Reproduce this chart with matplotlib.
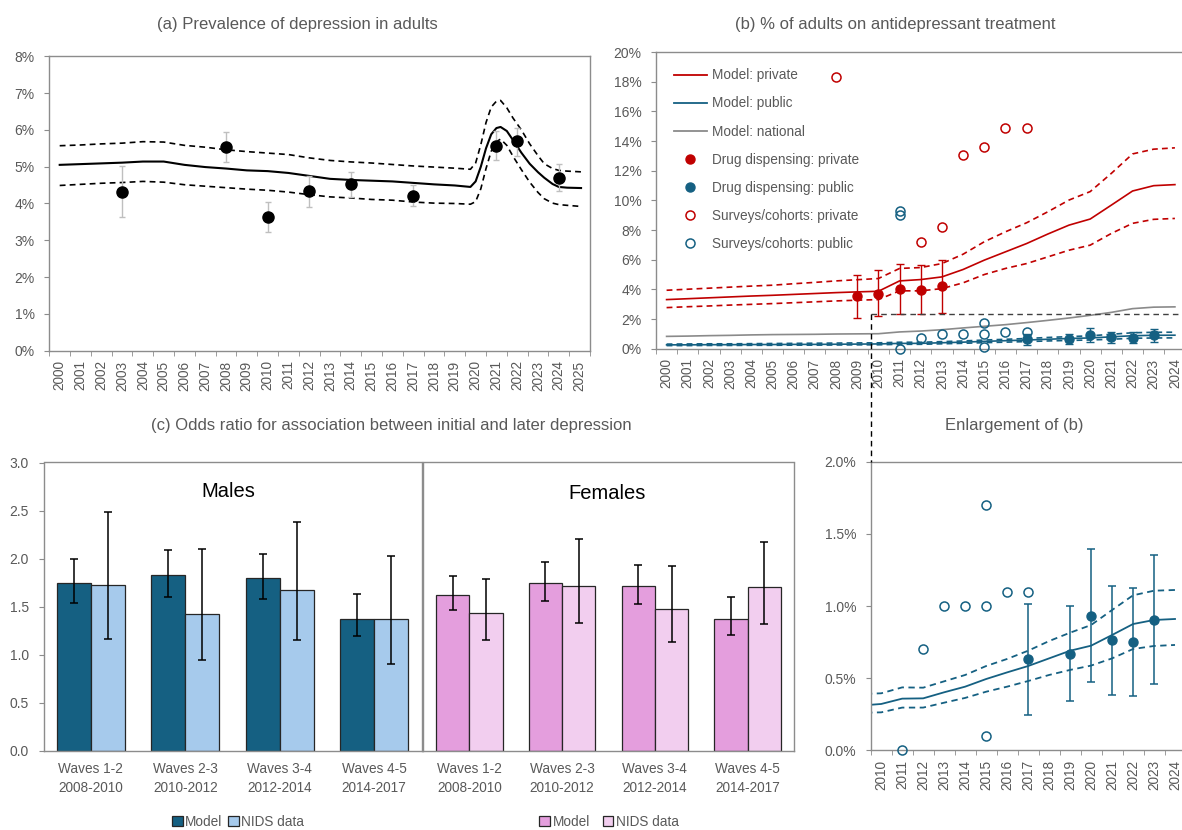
import numpy as np
import matplotlib.pyplot as plt
from matplotlib.lines import Line2D
from matplotlib.patches import Patch
from matplotlib.ticker import FuncFormatter

plt.rcParams['font.family'] = ['Liberation Sans', 'DejaVu Sans']

W, H = 1182, 830
TXT = '#595959'
SPINE = '#8c8c8c'
RED = '#c00000'
BLUE = '#156082'
NAT = '#8a8a8a'

# ---- (a) prevalence of depression (%)
a_x = list(range(2000, 2020)) + [2019.75, 2020.0, 2020.25, 2020.5, 2020.75, 2021.0, 2021.2, 2021.5,
                                 2021.8, 2022.2, 2022.6, 2023.0, 2023.3, 2023.7, 2024.0, 2024.4, 2025.07]
a_mid = [5.05, 5.07, 5.09, 5.11, 5.14, 5.14, 5.05, 4.99, 4.95, 4.90, 4.88, 4.83, 4.75, 4.67, 4.64,
         4.62, 4.60, 4.56, 4.52, 4.49,
         4.45, 4.60, 5.00, 5.50, 5.88, 6.05, 6.08, 5.97, 5.72, 5.38, 5.08, 4.85, 4.70, 4.53, 4.45, 4.43, 4.42]
a_hi = [5.57, 5.59, 5.62, 5.64, 5.68, 5.67, 5.58, 5.53, 5.46, 5.41, 5.37, 5.33, 5.24, 5.17, 5.13,
        5.10, 5.06, 5.02, 4.99, 4.96,
        4.93, 5.10, 5.60, 6.20, 6.62, 6.78, 6.80, 6.60, 6.32, 6.00, 5.62, 5.30, 5.08, 4.95, 4.90, 4.88, 4.86]
a_lo = [4.49, 4.52, 4.55, 4.57, 4.60, 4.58, 4.51, 4.47, 4.43, 4.39, 4.36, 4.31, 4.24, 4.18, 4.15,
        4.11, 4.09, 4.04, 4.01, 4.00,
        3.98, 4.05, 4.40, 4.95, 5.42, 5.68, 5.75, 5.58, 5.28, 4.92, 4.58, 4.30, 4.13, 4.01, 3.97, 3.95, 3.92]
a_obs_year = [2003, 2008, 2010, 2012, 2014, 2017, 2021, 2022, 2024]
a_obs = [4.32, 5.53, 3.63, 4.33, 4.52, 4.21, 5.56, 5.69, 4.70]
a_obs_lo = [3.63, 5.14, 3.22, 3.90, 4.18, 3.93, 5.18, 5.30, 4.33]
a_obs_hi = [5.01, 5.95, 4.05, 4.75, 4.86, 4.50, 5.96, 6.05, 5.08]

# ---- (b) % on antidepressant treatment
b_years = list(range(2000, 2025))
b_priv = [3.31, 3.37, 3.43, 3.49, 3.55, 3.60, 3.66, 3.72, 3.78, 3.83, 3.87, 4.57, 4.66, 4.84, 5.34,
          5.97, 6.53, 7.09, 7.73, 8.33, 8.74, 9.68, 10.63, 10.99, 11.06]
b_priv_hi = [3.94, 4.01, 4.08, 4.15, 4.22, 4.28, 4.38, 4.47, 4.57, 4.65, 4.73, 5.41, 5.47, 5.74, 6.37,
             7.21, 7.88, 8.49, 9.23, 10.02, 10.59, 11.82, 13.13, 13.45, 13.54]
b_priv_lo = [2.77, 2.83, 2.88, 2.94, 2.99, 3.04, 3.10, 3.16, 3.22, 3.27, 3.31, 3.90, 3.90, 4.05, 4.44,
             5.00, 5.41, 5.74, 6.19, 6.64, 6.98, 7.77, 8.45, 8.72, 8.78]
b_nat = [0.83, 0.85, 0.88, 0.90, 0.93, 0.95, 0.96, 0.97, 0.99, 1.00, 1.01, 1.13, 1.19, 1.28, 1.40,
         1.51, 1.62, 1.76, 1.91, 2.07, 2.25, 2.45, 2.70, 2.80, 2.82]
b_pub = [0.26, 0.26, 0.27, 0.27, 0.28, 0.28, 0.29, 0.29, 0.30, 0.31, 0.321, 0.358, 0.360, 0.402, 0.441,
         0.494, 0.540, 0.584, 0.637, 0.690, 0.725, 0.799, 0.875, 0.903, 0.910]
b_pub_hi = [0.31, 0.32, 0.33, 0.33, 0.34, 0.35, 0.36, 0.37, 0.38, 0.39, 0.395, 0.436, 0.434, 0.478, 0.522,
            0.584, 0.633, 0.690, 0.757, 0.815, 0.868, 0.972, 1.074, 1.106, 1.111]
b_pub_lo = [0.21, 0.21, 0.22, 0.22, 0.23, 0.23, 0.24, 0.24, 0.25, 0.26, 0.263, 0.296, 0.296, 0.330, 0.363,
            0.406, 0.441, 0.480, 0.522, 0.557, 0.587, 0.637, 0.702, 0.723, 0.730]

priv_disp_year = [2009, 2010, 2011, 2012, 2013]
priv_disp = [3.54, 3.72, 4.05, 3.96, 4.21]
priv_disp_lo = [2.07, 2.18, 2.32, 2.32, 2.43]
priv_disp_hi = [5.00, 5.29, 5.74, 5.63, 5.97]

priv_surv_year = [2008, 2012, 2013, 2014, 2015, 2016, 2017]
priv_surv = [18.31, 7.18, 8.20, 13.09, 13.60, 14.91, 14.91]

pub_disp_year = [2017, 2019, 2020, 2021, 2022, 2023]
pub_disp = [0.630, 0.670, 0.933, 0.762, 0.753, 0.905]
pub_disp_lo = [0.247, 0.339, 0.471, 0.386, 0.379, 0.457]
pub_disp_hi = [1.014, 1.002, 1.397, 1.141, 1.125, 1.356]

pub_surv_year = [2011, 2011, 2011, 2012, 2013, 2014, 2015, 2015, 2015, 2016, 2017]
pub_surv = [9.28, 9.01, 0.0, 0.70, 1.00, 1.00, 1.70, 1.00, 0.10, 1.10, 1.10]

# ---- (c) odds ratios
waves = ['Waves 1-2\n2008-2010', 'Waves 2-3\n2010-2012', 'Waves 3-4\n2012-2014', 'Waves 4-5\n2014-2017']
male_model = [1.75, 1.83, 1.80, 1.37]
male_model_lo = [1.54, 1.60, 1.58, 1.19]
male_model_hi = [2.00, 2.09, 2.05, 1.63]
male_nids = [1.72, 1.42, 1.67, 1.37]
male_nids_lo = [1.16, 0.94, 1.15, 0.90]
male_nids_hi = [2.48, 2.10, 2.38, 2.03]
fem_model = [1.625, 1.75, 1.71, 1.37]
fem_model_lo = [1.46, 1.56, 1.53, 1.20]
fem_model_hi = [1.82, 1.96, 1.93, 1.60]
fem_nids = [1.43, 1.715, 1.48, 1.70]
fem_nids_lo = [1.15, 1.33, 1.13, 1.32]
fem_nids_hi = [1.79, 2.20, 1.92, 2.17]


def err(v, lo, hi):
    v, lo, hi = np.array(v), np.array(lo), np.array(hi)
    return [v - lo, hi - v]


fig = plt.figure(figsize=(W / 100, H / 100), dpi=100)


def px_axes(x0, y0, x1, y1):
    return fig.add_axes([x0 / W, 1 - y1 / H, (x1 - x0) / W, (y1 - y0) / H])


def box(ax):
    for s in ax.spines.values():
        s.set_color(SPINE)
        s.set_linewidth(1.0)
    ax.tick_params(axis='y', length=3.4, color=SPINE, pad=7, labelsize=10, labelcolor=TXT)


def year_axis(ax, first, last):
    yrs = list(range(first, last + 1))
    ax.set_xlim(first - 0.5, last + 0.5)
    ax.set_xticks(yrs)
    ax.set_xticklabels([str(y) for y in yrs], rotation=90)
    ax.set_xticks(np.arange(first - 0.5, last + 1.0, 1.0), minor=True)
    ax.tick_params(axis='x', which='major', length=0, pad=7, labelsize=9.8, labelcolor=TXT)
    ax.tick_params(axis='x', which='minor', length=3.6, color=SPINE)


def ftext(x, y, s, **kw):
    fig.text(x / W, 1 - y / H, s, va='center', **kw)


# ================= (a)
ax = px_axes(49.3, 56.3, 590, 350.7)
box(ax)
year_axis(ax, 2000, 2025)
ax.set_ylim(0, 8)
ax.set_yticks(range(0, 9))
ax.yaxis.set_major_formatter(FuncFormatter(lambda v, p: f'{v:.0f}%'))
ax.plot(a_x, a_mid, color='black', lw=1.5)
ax.plot(a_x, a_hi, color='black', lw=1.2, dashes=(3.5, 2.5))
ax.plot(a_x, a_lo, color='black', lw=1.2, dashes=(3.5, 2.5))
ax.errorbar(a_obs_year, a_obs, yerr=err(a_obs, a_obs_lo, a_obs_hi), fmt='none',
            ecolor='#bfbfbf', elinewidth=1.0, capsize=2.3, capthick=1.0, zorder=3)
ax.plot(a_obs_year, a_obs, 'o', color='black', ms=8, zorder=4)
ftext(157, 25, '(a) Prevalence of depression in adults', ha='left', fontsize=12, color=TXT)

# ================= (b)
ax = px_axes(656, 52, 1185.5, 348.7)
box(ax)
ax.spines['right'].set_visible(False)
year_axis(ax, 2000, 2024)
ax.set_ylim(0, 20)
ax.set_yticks(range(0, 21, 2))
ax.yaxis.set_major_formatter(FuncFormatter(lambda v, p: f'{v:.0f}%'))
ax.plot(b_years, b_nat, color=NAT, lw=1.2)
ax.plot(b_years, b_priv, color=RED, lw=1.2)
ax.plot(b_years, b_priv_hi, color=RED, lw=1.2, dashes=(3.5, 2.5))
ax.plot(b_years, b_priv_lo, color=RED, lw=1.2, dashes=(3.5, 2.5))
ax.plot(b_years, b_pub, color=BLUE, lw=1.2)
ax.plot(b_years, b_pub_hi, color=BLUE, lw=1.2, dashes=(3.5, 2.5))
ax.plot(b_years, b_pub_lo, color=BLUE, lw=1.2, dashes=(3.5, 2.5))
ax.errorbar(priv_disp_year, priv_disp, yerr=err(priv_disp, priv_disp_lo, priv_disp_hi), fmt='none',
            ecolor=RED, elinewidth=1.0, capsize=2.6, capthick=1.0, zorder=3)
ax.plot(priv_disp_year, priv_disp, 'o', color=RED, ms=6.5, zorder=4)
ax.errorbar(pub_disp_year, pub_disp, yerr=err(pub_disp, pub_disp_lo, pub_disp_hi), fmt='none',
            ecolor=BLUE, elinewidth=1.0, capsize=2.6, capthick=1.0, zorder=3)
ax.plot(pub_disp_year, pub_disp, 'o', color=BLUE, ms=6.5, zorder=4)
ax.plot(priv_surv_year, priv_surv, 'o', mfc='none', mec=RED, mew=1.1, ms=6.5, zorder=4)
ax.plot(pub_surv_year, pub_surv, 'o', mfc='none', mec=BLUE, mew=1.1, ms=6.5, zorder=4, clip_on=False)

handles = [
    Line2D([], [], color=RED, lw=1.3),
    Line2D([], [], color=BLUE, lw=1.3),
    Line2D([], [], color=NAT, lw=1.3),
    Line2D([], [], ls='none', marker='o', color=RED, ms=6.5),
    Line2D([], [], ls='none', marker='o', color=BLUE, ms=6.5),
    Line2D([], [], ls='none', marker='o', mfc='none', mec=RED, mew=1.1, ms=6.5),
    Line2D([], [], ls='none', marker='o', mfc='none', mec=BLUE, mew=1.1, ms=6.5),
]
labels = ['Model: private', 'Model: public', 'Model: national', 'Drug dispensing: private',
          'Drug dispensing: public', 'Surveys/cohorts: private', 'Surveys/cohorts: public']
ax.legend(handles, labels, loc='upper left', bbox_to_anchor=(0.034, 0.945), frameon=False,
          fontsize=9.8, labelcolor=TXT, handlelength=2.4, handletextpad=0.4,
          labelspacing=1.04, borderpad=0, borderaxespad=0)
ftext(735, 25, '(b) % of adults on antidepressant treatment', ha='left', fontsize=12, color=TXT)

# ================= (c)
def bar_panel(ax, model, mlo, mhi, nids, nlo, nhi, c_model, c_nids, bw):
    x = np.arange(len(model))
    ax.bar(x - bw / 2, model, bw, color=c_model, edgecolor='#262626', lw=0.9)
    ax.bar(x + bw / 2, nids, bw, color=c_nids, edgecolor='#262626', lw=0.9)
    ax.errorbar(x - bw / 2, model, yerr=err(model, mlo, mhi), fmt='none', ecolor='black',
                elinewidth=1.1, capsize=2.6, capthick=1.1)
    ax.errorbar(x + bw / 2, nids, yerr=err(nids, nlo, nhi), fmt='none', ecolor='black',
                elinewidth=1.1, capsize=2.6, capthick=1.1)
    ax.set_xlim(-0.5, len(model) - 0.5)
    ax.set_ylim(0, 3.0)
    ax.set_xticks(x)
    ax.set_xticklabels(waves, linespacing=1.45)
    ax.tick_params(axis='x', length=0, pad=8, labelsize=9.8, labelcolor=TXT)
    box(ax)


axm = px_axes(43.5, 462.5, 421.5, 750.7)
bar_panel(axm, male_model, male_model_lo, male_model_hi, male_nids, male_nids_lo, male_nids_hi,
          BLUE, '#a6caec', 0.362)
axm.set_yticks(np.arange(0, 3.01, 0.5))
axm.yaxis.set_major_formatter(FuncFormatter(lambda v, p: f'{v:.1f}'))
axm.text(0.488, 0.899, 'Males', transform=axm.transAxes, ha='center', va='center', fontsize=14.5)

axf = px_axes(423, 462.5, 794, 750.7)
bar_panel(axf, fem_model, fem_model_lo, fem_model_hi, fem_nids, fem_nids_lo, fem_nids_hi,
          '#e49edd', '#f2ceef', 0.359)
axf.set_yticks([])
axf.text(0.496, 0.891, 'Females', transform=axf.transAxes, ha='center', va='center', fontsize=14.5)

for cx, cm, cn, gap in [(238, BLUE, '#a6caec', 0.4), (609, '#e49edd', '#f2ceef', 0.95)]:
    fig.legend([Patch(facecolor=cm, edgecolor='#262626', lw=0.9),
                Patch(facecolor=cn, edgecolor='#262626', lw=0.9)],
               ['Model', 'NIDS data'], loc='center', bbox_to_anchor=(cx / W, 1 - 822 / H),
               ncol=2, frameon=False, fontsize=9.8, labelcolor=TXT, handlelength=0.8,
               handleheight=0.8, handletextpad=0.15, columnspacing=gap, borderpad=0)

ftext(151, 425, '(c) Odds ratio for association between initial and later depression',
      ha='left', fontsize=12, color=TXT)

# ================= enlargement of (b)
ax = px_axes(870.7, 461.7, 1185.5, 750.3)
box(ax)
ax.spines['right'].set_visible(False)
year_axis(ax, 2010, 2024)
ax.set_ylim(0, 2.0)
ax.set_yticks(np.arange(0, 2.01, 0.5))
ax.yaxis.set_major_formatter(FuncFormatter(lambda v, p: f'{v:.1f}%'))
ax.plot(b_years, b_pub, color=BLUE, lw=1.3)
ax.plot(b_years, b_pub_hi, color=BLUE, lw=1.3, dashes=(3.5, 2.5))
ax.plot(b_years, b_pub_lo, color=BLUE, lw=1.3, dashes=(3.5, 2.5))
ax.errorbar(pub_disp_year, pub_disp, yerr=err(pub_disp, pub_disp_lo, pub_disp_hi), fmt='none',
            ecolor=BLUE, elinewidth=1.1, capsize=2.6, capthick=1.1, zorder=3)
ax.plot(pub_disp_year, pub_disp, 'o', color=BLUE, ms=6.5, zorder=4)
ax.plot(pub_surv_year, pub_surv, 'o', mfc='none', mec=BLUE, mew=1.1, ms=6.5, zorder=4, clip_on=False)
ftext(945, 425, 'Enlargement of (b)', ha='left', fontsize=12, color=TXT)

# dashed link between (b) and its enlargement
fig.add_artist(Line2D([870.7 / W, 1182 / W], [1 - 314.5 / H, 1 - 314.5 / H],
                      color='#404040', lw=1.0, dashes=(4, 3)))
fig.add_artist(Line2D([870.7 / W, 870.7 / W], [1 - 314.5 / H, 1 - 461.7 / H],
                      color='black', lw=1.0, dashes=(4, 3)))

fig.savefig('out.png', dpi=100)
